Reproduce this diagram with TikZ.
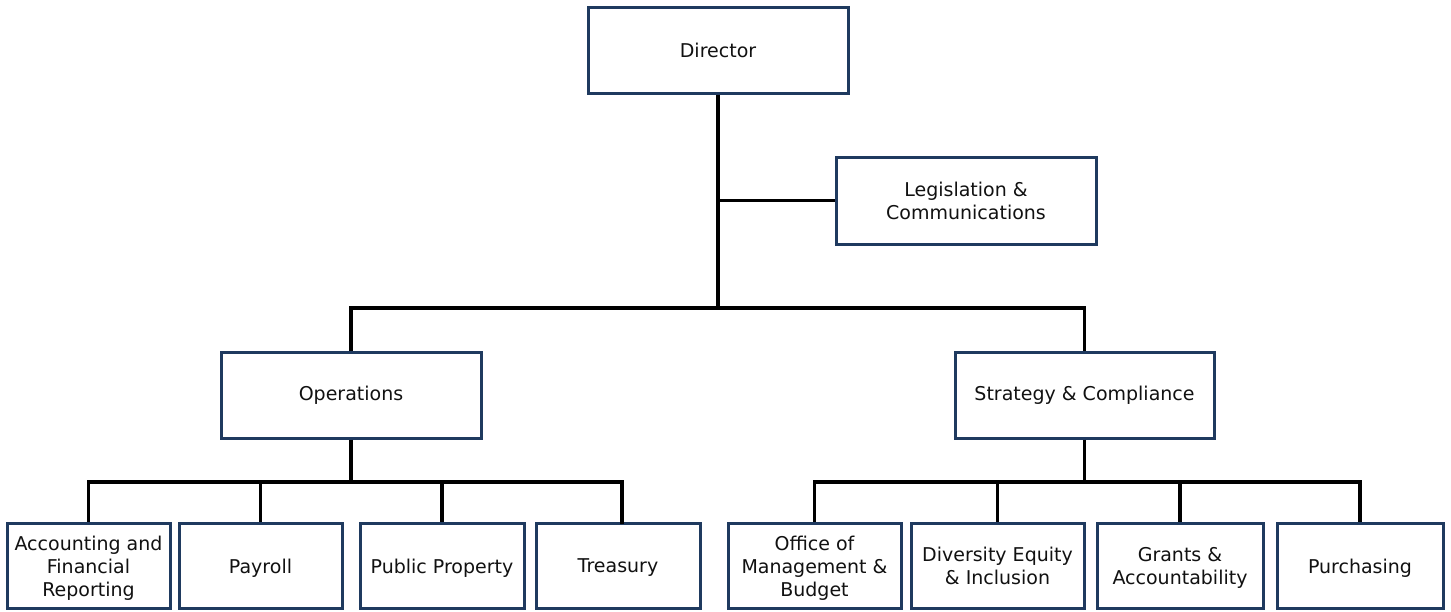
\documentclass[tikz,border=0pt]{standalone}
\usepackage{fontspec}
\setmainfont{DejaVu Sans}
\definecolor{boxblue}{HTML}{1F3A5F}
\definecolor{txt}{HTML}{111111}
\begin{document}
\begin{tikzpicture}[x=1pt,y=-1pt,
  orgbox/.style={draw=boxblue, line width=3pt, fill=white, rectangle, align=center,
     inner sep=2pt, text=txt, font=\fontsize{19}{23}\selectfont},
  lowbox/.style={orgbox, minimum height=85pt, text depth=-1pt},
  link/.style={draw=black, line width=3.2pt}]
\useasboundingbox (0,0) rectangle (1451,611);
\fill[white] (0,0) rectangle (1451,611);

\node[orgbox, minimum width=260pt, minimum height=86pt] (dir) at (718,50) {Director};
\node[orgbox, minimum width=260pt, minimum height=87pt] (leg) at (966,200.5) {Legislation \&\\Communications};
\node[orgbox, minimum width=260pt, minimum height=86pt] (ops) at (351,395) {Operations};
\node[orgbox, minimum width=259pt, minimum height=86pt] (str) at (1084.5,395) {Strategy \& Compliance};

\node[lowbox, minimum width=163pt] (acc) at (88.5,566) {Accounting and\\Financial\\Reporting};
\node[lowbox, minimum width=163pt] (pay) at (260.5,566) {Payroll};
\node[lowbox, minimum width=164pt] (pub) at (442,566) {Public Property};
\node[lowbox, minimum width=164pt] (tre) at (618,566) {Treasury};
\node[lowbox, minimum width=173pt] (omb) at (814.5,566) {Office of\\Management \&\\Budget};
\node[lowbox, minimum width=173pt] (dei) at (997.5,566) {Diversity Equity\\\& Inclusion};
\node[lowbox, minimum width=166pt] (gra) at (1180,566) {Grants \&\\Accountability};
\node[lowbox, minimum width=166pt] (pur) at (1360,566) {Purchasing};

\coordinate (mid) at (718,308);
\coordinate (opsbar) at (351,482);
\coordinate (strbar) at (1084.5,482);
\coordinate (tredrop) at (622,523.5);

\draw[link] (dir.south) -- (mid);
\draw[link] (dir.south |- leg.west) -- (leg.west);
\draw[link] (mid) -| (ops.north);
\draw[link] (mid) -| (str.north);
\draw[link] (ops.south) -- (opsbar);
\draw[link] (opsbar) -| (acc.north);
\draw[link] (opsbar) -| (pay.north);
\draw[link] (opsbar) -| (pub.north);
\draw[link] (opsbar) -| (tredrop);
\draw[link] (str.south) -- (strbar);
\draw[link] (strbar) -| (omb.north);
\draw[link] (strbar) -| (dei.north);
\draw[link] (strbar) -| (gra.north);
\draw[link] (strbar) -| (pur.north);
\end{tikzpicture}
\end{document}
